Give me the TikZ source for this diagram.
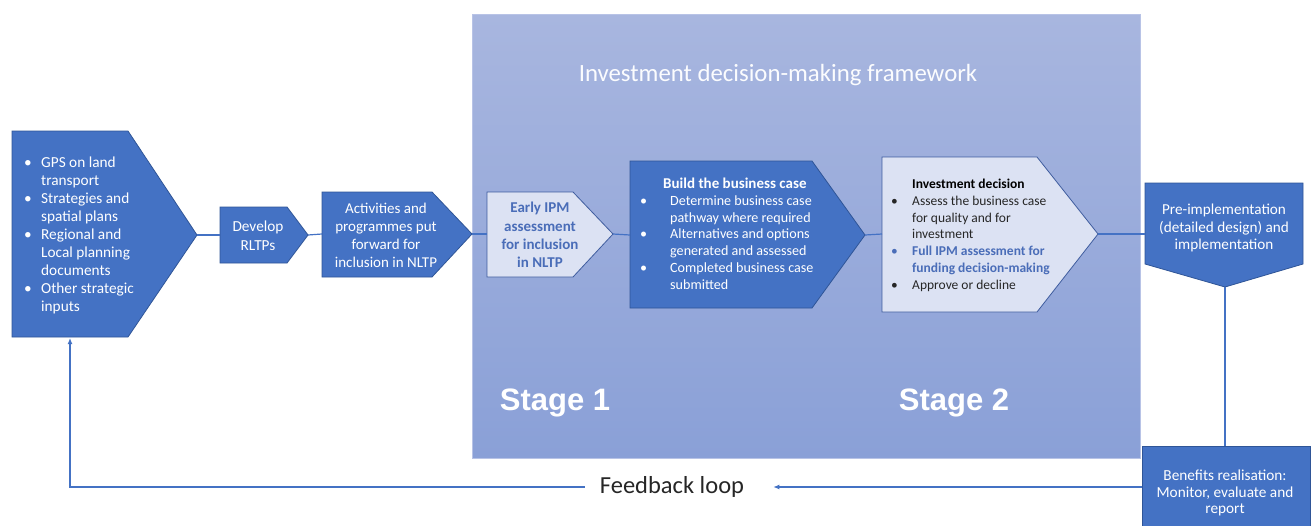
\documentclass[tikz,border=0pt]{standalone}
\usepackage{fontspec}
\setmainfont{Carlito}
\newfontfamily\arialfont{Liberation Sans}
\usetikzlibrary{arrows.meta}
\definecolor{dkblue}{HTML}{4472C4}
\definecolor{dkedge}{HTML}{2F5597}
\definecolor{fwtop}{HTML}{A8B6DF}
\definecolor{fwbot}{HTML}{8AA0D7}
\definecolor{fwedge}{HTML}{B8C3E6}
\definecolor{ltfill}{HTML}{DCE2F3}
\definecolor{ltedge}{HTML}{3E5C9E}
\definecolor{ipmblue}{HTML}{4A6DB8}
\definecolor{darktxt}{HTML}{262626}
\definecolor{linec}{HTML}{4472C4}
\tikzset{
  dkshape/.style={fill=dkblue,draw=dkedge,line width=0.8pt,line join=miter},
  ltshape/.style={fill=ltfill,draw=ltedge,line width=0.8pt,line join=miter},
  conn/.style={draw=linec,line width=1.2pt},
  arr/.style={conn,-{Latex[length=6pt,width=5pt]}},
  wtext/.style={text=white,inner sep=0pt,align=center},
  bltext/.style={inner sep=0pt,anchor=west,align=left},
}
\begin{document}
\begin{tikzpicture}[x=1pt,y=-1pt]
\useasboundingbox (0,0) rectangle (1314,525);
\fill[white] (0,0) rectangle (1314,525);

% framework background
\shade[top color=fwtop,bottom color=fwbot] (472,14) rectangle (1140,458);
\draw[fwedge,line width=0.6pt] (472,14) rectangle (1140,458);
\node[text=white!96!fwtop,inner sep=0pt,font=\fontsize{24.8}{29}\selectfont] (fwtitle) at (778,75) {Investment decision-making framework};
\node[text=white,inner sep=0pt,font=\arialfont\bfseries\fontsize{31}{36}\selectfont] (st1) at (555,403) {Stage 1};
\node[text=white,inner sep=0pt,font=\arialfont\bfseries\fontsize{31}{36}\selectfont] (st2) at (954,403) {Stage 2};

% shapes
\draw[dkshape] (12,131) -- (128,131) -- (197,235) -- (128,337) -- (12,337) -- cycle;
\coordinate (inTip) at (197,235);
\coordinate (inBot) at (70,338);

\draw[dkshape] (220,207) -- (287,207) -- (308,235) -- (287,263) -- (220,263) -- cycle;
\coordinate (devL) at (220,235);
\coordinate (devTip) at (308,235);

\draw[dkshape] (322,192) -- (432,192) -- (472,234) -- (432,277) -- (322,277) -- cycle;
\coordinate (actL) at (322,234);
\coordinate (actTip) at (472,234);

\draw[ltshape] (487,192) -- (573,192) -- (613,234) -- (573,277) -- (487,277) -- cycle;
\coordinate (ipmL) at (487,234);
\coordinate (ipmTip) at (613,234);

\draw[dkshape] (630,161) -- (812,161) -- (865,235) -- (812,308) -- (630,308) -- cycle;
\coordinate (bbcL) at (630,235);
\coordinate (bbcTip) at (865,235);

\draw[ltshape] (882,157) -- (1037,157) -- (1098,234) -- (1037,312) -- (882,312) -- cycle;
\coordinate (invL) at (882,234);
\coordinate (invTip) at (1098,234);

\draw[dkshape] (1145,183) -- (1303,183) -- (1303,264) -- (1225,287) -- (1145,264) -- cycle;
\coordinate (preL) at (1145,234);
\coordinate (preTip) at (1225,287);

\draw[dkshape] (1142,446) rectangle (1310,527);
\coordinate (benT) at (1225,446);
\coordinate (benL) at (1142,487);

% texts
\node[bltext,text=white,font=\fontsize{15.3}{18}\selectfont] (inputs) at (24,236) {%
\begin{tabular}{@{}p{17pt}@{}l@{}}
\textbullet & GPS on land\\
 & transport\\
\textbullet & Strategies and\\
 & spatial plans\\
\textbullet & Regional and\\
 & Local planning\\
 & documents\\
\textbullet & Other strategic\\
 & inputs
\end{tabular}};

\node[wtext,font=\fontsize{15.3}{19}\selectfont] (dev) at (258,236) {Develop\\RLTPs};
\node[wtext,font=\fontsize{15}{18}\selectfont] (act) at (386,235) {Activities and\\programmes put\\forward for\\inclusion in NLTP};
\node[inner sep=0pt,align=center,text=ipmblue,font=\bfseries\fontsize{15}{18.3}\selectfont] (ipm) at (540,235) {Early IPM\\assessment\\for inclusion\\in NLTP};

\node[bltext,text=white,font=\fontsize{14.1}{16.8}\selectfont] (bbc) at (640,235.5) {%
\begin{tabular}{@{}p{30pt}@{}l@{}}
\multicolumn{2}{@{}l@{}}{\hspace{23pt}\bfseries\fontsize{15}{16.8}\selectfont Build the business case}\\
\textbullet & Determine business case\\
 & pathway where required\\
\textbullet & Alternatives and options\\
 & generated and assessed\\
\textbullet & Completed business case\\
 & submitted
\end{tabular}};

\node[bltext,text=darktxt,font=\fontsize{13.5}{16.8}\selectfont] (inv) at (891,235.5) {%
\begin{tabular}{@{}p{21pt}@{}l@{}}
\multicolumn{2}{@{}l@{}}{\hspace{21pt}\bfseries\textcolor{black}{Investment decision}}\\
\textbullet & Assess the business case\\
 & for quality and for\\
 & investment\\
\textcolor{ipmblue}{\textbullet} & \textcolor{ipmblue}{\bfseries Full IPM assessment for}\\
 & \textcolor{ipmblue}{\bfseries funding decision-making}\\
\textbullet & Approve or decline
\end{tabular}};

\node[wtext,font=\fontsize{15.2}{17.8}\selectfont] (pre) at (1224,228) {Pre-implementation\\(detailed design) and\\implementation};
\node[wtext,font=\fontsize{15.3}{16.5}\selectfont] (ben) at (1225,493) {Benefits realisation:\\Monitor, evaluate and\\report};

\node[text=darktxt,inner sep=0pt,font=\fontsize{24.5}{29}\selectfont] (fb) at (672,487) {Feedback loop};

% connectors
\draw[conn] (inTip) -- (devL);
\draw[conn] (devTip) -- (actL);
\draw[conn] (actTip) -- (ipmL);
\draw[conn] (ipmTip) -- (bbcL);
\draw[conn] (bbcTip) -- (invL);
\draw[conn] (invTip) -- (preL);
\draw[conn] (preTip) -- (benT);
\draw[arr] (benL) -- ([xshift=29pt]fb.east);
\draw[arr] ([xshift=-15pt]fb.west) -| (inBot);
\end{tikzpicture}
\end{document}
